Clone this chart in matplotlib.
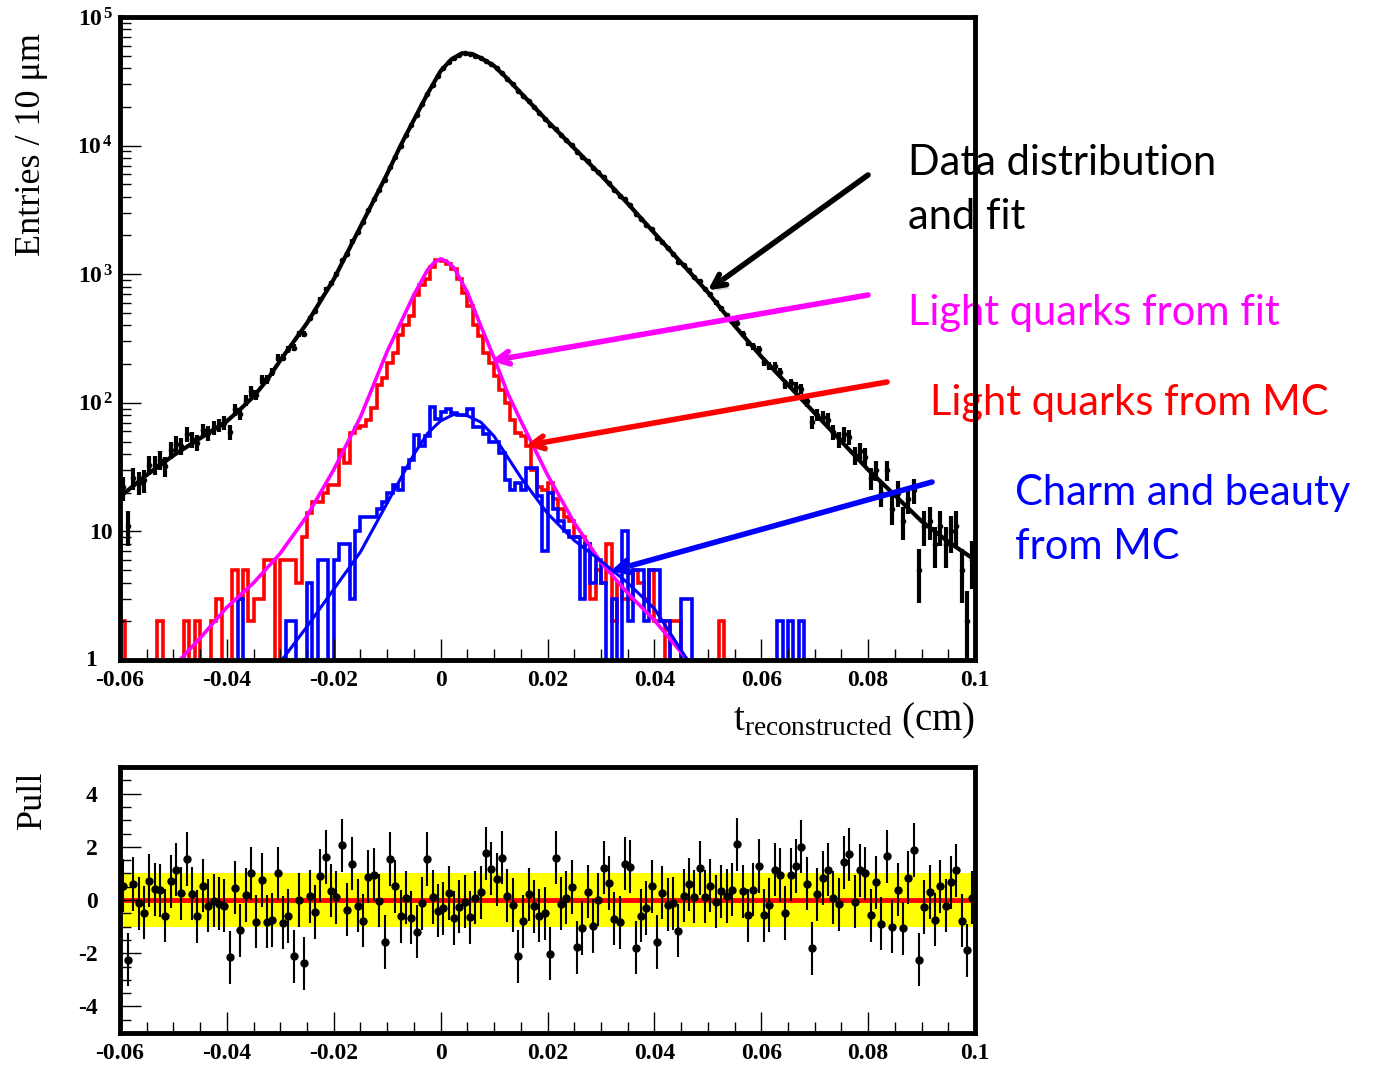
import numpy as np
import matplotlib.pyplot as plt
from matplotlib import patheffects as pe
from matplotlib.ticker import MultipleLocator, FuncFormatter, FixedLocator, FixedFormatter, LogLocator, NullFormatter

plt.rcParams['font.family'] = ['Liberation Serif', 'DejaVu Serif']
plt.rcParams['mathtext.fontset'] = 'custom'
plt.rcParams['mathtext.rm'] = 'Liberation Serif'
plt.rcParams['mathtext.it'] = 'Liberation Serif:italic'
plt.rcParams['mathtext.bf'] = 'Liberation Serif:bold'

# 10 um bins between -0.06 and 0.1 cm
edges = np.linspace(-0.06, 0.1, 161)
centres = 0.5 * (edges[:-1] + edges[1:])

data_counts = [
    22, 11, 26, 24, 25, 33, 33, 36, 32, 43,
    48, 46, 57, 52, 49, 61, 58, 64, 67, 70,
    59, 89, 82, 104, 123, 116, 152, 152, 174, 225,
    225, 260, 269, 346, 345, 454, 517, 639, 765, 853,
    1005, 1283, 1448, 1823, 2123, 2536, 3161, 3816, 4537, 5366,
    6794, 8213, 9939, 12033, 14375, 17221, 20876, 25363, 29667, 34920,
    39983, 44465, 47991, 50944, 52166, 51432, 50139, 47926, 45823, 43154,
    39967, 36611, 33142, 29890, 26693, 24309, 22111, 19919, 17951, 16229,
    14512, 13581, 12147, 11050, 10072, 8929, 8165, 7526, 6727, 6181,
    5689, 5104, 4523, 4076, 3816, 3438, 2929, 2692, 2434, 2227,
    1912, 1793, 1596, 1437, 1255, 1172, 1069, 948, 884, 767,
    696, 604, 544, 479, 431, 418, 343, 292, 276, 262,
    209, 194, 193, 173, 139, 142, 133, 128, 103, 71,
    81, 78, 74, 59, 52, 57, 54, 39, 42, 38,
    26, 30, 20, 30, 15, 20, 12, 18, 21, 5,
    11, 12, 8, 11, 8, 10, 11, 5, 2, 6,
]

pulls = [
    0.54, -2.25, 0.6, -0.12, -0.48, 0.72, 0.4, 0.36, -0.59, 0.7,
    1.14, 0.25, 1.54, 0.24, -0.62, 0.54, -0.22, -0.03, -0.14, -0.22,
    -2.15, 0.46, -1.14, 0.19, 1.0, -0.81, 0.75, -0.81, -0.75, 1.01,
    -0.85, -0.6, -2.11, 0.0, -2.38, 0.14, -0.45, 0.92, 1.62, 0.35,
    0.1, 2.06, -0.36, 1.36, -0.22, -0.78, 0.88, 0.95, -0.03, -1.58,
    1.54, 0.52, -0.61, 0.09, -0.66, -1.19, -0.12, 1.54, 0.11, -0.4,
    -0.31, 0.26, -0.68, -0.25, -0.06, -0.65, 0.09, 0.29, 1.75, 1.18,
    0.78, 1.59, 0.16, -0.19, -2.11, -0.8, 0.21, -0.24, -0.59, -0.5,
    -2.02, 1.59, -0.14, 0.09, 0.49, -1.78, -1.05, 0.31, -0.98, 0.01,
    1.22, 0.64, -0.71, -0.84, 1.36, 1.25, -1.79, -0.59, -0.3, 0.52,
    -1.58, 0.27, -0.18, -0.12, -1.16, 0.16, 0.59, 0.12, 1.2, 0.12,
    0.54, -0.06, 0.32, 0.15, 0.39, 2.1, 0.32, -0.58, 0.38, 1.28,
    -0.58, -0.19, 1.14, 0.94, -0.49, 0.95, 1.28, 2.0, 0.61, -1.81,
    0.22, 0.83, 1.14, 0.09, -0.16, 1.41, 1.72, -0.06, 1.11, 1.01,
    -0.58, 0.66, -0.89, 1.64, -1.01, 0.39, -1.06, 0.84, 1.88, -2.25,
    -0.26, 0.3, -0.74, 0.52, -0.21, 0.66, 1.12, -0.78, -1.89, 0.09,
]

# light quarks MC
light_mc = [
    2, 0, 0, 0, 0, 0, 0, 2, 0, 0,
    0, 0, 2, 0, 2, 0, 0, 2, 3, 0,
    0, 5, 3, 5, 2, 3, 3, 6, 6, 0,
    6, 6, 6, 4, 9, 14, 17, 17, 20, 23,
    23, 43, 34, 58, 64, 66, 73, 91, 137, 156,
    204, 245, 338, 405, 477, 695, 820, 916, 1130, 1290,
    1270, 1200, 1090, 916, 720, 570, 405, 333, 245, 204,
    162, 125, 100, 73, 58, 55, 46, 30, 22, 21,
    24, 18, 15, 13, 12, 9, 9, 8, 3, 5,
    4, 8, 2, 4, 3, 3, 5, 4, 3, 5,
    2, 2, 0, 2, 2, 0, 0, 0, 0, 0,
    0, 0, 2, 0, 0, 0, 0, 0, 0, 0,
    0, 0, 0, 0, 0, 0, 0, 0, 0, 0,
    0, 0, 0, 0, 0, 0, 0, 0, 0, 0,
    0, 0, 0, 0, 0, 0, 0, 0, 0, 0,
    0, 0, 0, 0, 0, 0, 0, 0, 0, 0,
]

# charm and beauty MC
heavy_mc = [
    0, 0, 0, 0, 0, 0, 0, 0, 0, 0,
    0, 0, 0, 0, 0, 0, 0, 0, 0, 0,
    0, 0, 3, 0, 0, 0, 0, 0, 0, 0,
    0, 2, 2, 0, 0, 4, 0, 6, 6, 0,
    6, 8, 8, 3, 10, 13, 13, 13, 15, 17,
    20, 23, 21, 31, 36, 56, 46, 55, 92, 75,
    85, 90, 84, 80, 80, 90, 65, 65, 57, 50,
    50, 41, 25, 21, 24, 21, 31, 31, 19, 7,
    20, 15, 12, 10, 9, 9, 3, 8, 4, 6,
    4, 0, 3, 0, 10, 2, 5, 5, 2, 5,
    5, 2, 2, 0, 0, 3, 3, 0, 0, 0,
    0, 0, 0, 0, 0, 0, 0, 0, 0, 0,
    0, 0, 0, 2, 0, 2, 0, 2, 0, 0,
    0, 0, 0, 0, 0, 0, 0, 0, 0, 0,
    0, 0, 0, 0, 0, 0, 0, 0, 0, 0,
    0, 0, 0, 0, 0, 0, 0, 0, 0, 0,
]

# fitted functions
fit_x = [-0.06, -0.055, -0.05, -0.045, -0.04, -0.0375, -0.035, -0.0325, -0.03, -0.025,
         -0.02, -0.015, -0.01, -0.0075, -0.005, -0.0025, 0.0, 0.002, 0.004, 0.006,
         0.008, 0.01, 0.0125, 0.015, 0.02, 0.025, 0.03, 0.035, 0.04, 0.045,
         0.05, 0.055, 0.06, 0.065, 0.07, 0.075, 0.08, 0.085, 0.09, 0.095, 0.1]
fit_total = [18.6, 27.5, 39.0, 53.0, 72.0, 89.0, 112, 150, 214, 417,
             912, 2340, 6030, 10000, 15850, 25100, 38000, 46800, 52300, 51500,
             46800, 41700, 33100, 25700, 15500, 9550, 5890, 3550, 2090, 1230,
             724, 398, 229, 138, 83.2, 50.1, 30.2, 19.1, 12.0, 8.3, 6.0]

light_x = [-0.0488, -0.045, -0.04, -0.035, -0.03, -0.025, -0.02, -0.015, -0.01, -0.0075,
           -0.005, -0.0025, -0.00125, 0.0, 0.00125, 0.0025, 0.005, 0.0075, 0.01, 0.0125,
           0.015, 0.02, 0.025, 0.03, 0.035, 0.04, 0.0462]
light_fit = [1.0, 1.48, 2.57, 3.98, 6.76, 13.2, 30.2, 77.6, 251, 417,
             692, 1072, 1230, 1318, 1250, 1122, 724, 398, 224, 120,
             72.4, 27.5, 11.7, 5.75, 3.31, 2.04, 1.0]

heavy_x = [-0.0297, -0.025, -0.02, -0.015, -0.01, -0.005, -0.0025, 0.0, 0.0025, 0.005,
           0.0075, 0.01, 0.0125, 0.015, 0.02, 0.025, 0.03, 0.035, 0.04, 0.0462]
heavy_fit = [1.0, 1.82, 3.55, 6.92, 16.6, 39.8, 57.5, 72.4, 81.3, 79.4,
             70.8, 55.0, 38.0, 26.3, 13.8, 8.51, 5.89, 3.98, 2.51, 1.0]

W, H = 1393, 1066
fig = plt.figure(figsize=(W / 100, H / 100), dpi=100)
ax = fig.add_axes([120 / W, 1 - 660 / H, 855 / W, 643 / H])
axp = fig.add_axes([120 / W, 1 - 1033 / H, 855 / W, 266 / H])


def xfmt(v, pos):
    v = round(v, 4)
    if abs(v) < 1e-9:
        return '0'
    return f'{v:g}'


tick_font = dict(family='Liberation Serif', weight='bold', size=17)

for a in (ax, axp):
    a.set_xlim(-0.06, 0.1)
    a.xaxis.set_major_locator(MultipleLocator(0.02))
    a.xaxis.set_minor_locator(MultipleLocator(0.005))
    a.xaxis.set_major_formatter(FuncFormatter(xfmt))
    a.tick_params(which='both', direction='in', top=False, right=False, width=1, colors='black')
    a.tick_params(which='major', length=15)
    a.tick_params(which='minor', length=8)
    a.tick_params(axis='x', pad=7)
    for s in a.spines.values():
        s.set_linewidth(3.5)

# top panel: distributions
ax.set_yscale('log')
ax.set_ylim(1, 1e5)
ax.yaxis.set_major_locator(FixedLocator([1, 10, 100, 1e3, 1e4, 1e5]))
ax.yaxis.set_major_formatter(FixedFormatter(['', '10', r'$\mathbf{10^{\,2}}$', r'$\mathbf{10^{\,3}}$',
                                             r'$\mathbf{10^{\,4}}$', r'$\mathbf{10^{\,5}}$']))
ax.yaxis.set_minor_locator(LogLocator(base=10, subs=np.arange(2, 10)))
ax.yaxis.set_minor_formatter(NullFormatter())
ax.tick_params(axis='y', pad=5)
for lab in ax.get_yticklabels() + ax.get_xticklabels():
    lab.set_fontproperties(tick_font)
ax.text(-0.027, 0.0, '1', transform=ax.transAxes, ha='right', va='center', **tick_font)

ax.stairs(light_mc, edges, color='#ff0000', lw=2.6, baseline=None)
ax.stairs(heavy_mc, edges, color='#0000ff', lw=2.6, baseline=None)
ax.plot(light_x, light_fit, color='#ff00ff', lw=2.6)
ax.plot(heavy_x, heavy_fit, color='#0000ff', lw=2.2)
ax.errorbar(centres, data_counts, yerr=np.sqrt(data_counts), fmt='o', ms=3,
            color='black', elinewidth=3, capsize=0)
ax.plot(fit_x, fit_total, color='black', lw=3)

fig.text(32 / W, 1 - 145 / H, 'Entries / 10 \u03bcm', rotation=90, ha='center', va='center', fontsize=26)
fig.text(975 / W, 1 - 730 / H, r'$\mathrm{t_{reconstructed}}$ (cm)', ha='right', va='baseline', fontsize=28)

# labels with arrows
note_font = ['Lato', 'DejaVu Sans']
notes = [
    ('Data distribution\nand fit', 908, 190, 'black'),
    ('Light quarks from fit', 908, 313, '#ff00ff'),
    ('Light quarks from MC', 930, 403, '#ff0000'),
    ('Charm and beauty\nfrom MC', 1015, 520, '#0000ff'),
]
for txt, px, py, col in notes:
    ax.text(px / W, 1 - py / H, txt, transform=fig.transFigure, color=col, fontsize=30,
            family=note_font, ha='left', va='center', linespacing=1.5, zorder=2, clip_on=False)

arrows = [
    ((0.05, 748), (868, 175), 'black'),
    ((0.0094, 212), (868, 295), '#ff00ff'),
    ((0.0159, 46.5), (887, 382), '#ff0000'),
    ((0.0318, 4.9), (932, 482), '#0000ff'),
]
for tip, tail, col in arrows:
    ax.annotate('', xy=tip, xycoords='data', xytext=(tail[0] / W, 1 - tail[1] / H),
                textcoords='figure fraction', zorder=5,
                arrowprops=dict(arrowstyle='->,head_length=0.9,head_width=0.45', lw=4, color=col,
                                shrinkA=0, shrinkB=0,
                                path_effects=[pe.SimplePatchShadow(offset=(2, -3), alpha=0.25),
                                              pe.Normal()]))

# bottom panel: pulls
axp.set_ylim(-5, 5)
axp.yaxis.set_major_locator(MultipleLocator(2))
axp.yaxis.set_minor_locator(MultipleLocator(0.5))
axp.yaxis.set_major_formatter(FuncFormatter(lambda v, p: f'{v:g}'))
axp.tick_params(axis='y', pad=16)
for lab in axp.get_yticklabels() + axp.get_xticklabels():
    lab.set_fontproperties(tick_font)
axp.axhspan(-1, 1, color='#ffff00', lw=0, zorder=0)
axp.axhline(0, color='#ff0000', lw=3.5, zorder=1)
axp.errorbar(centres, pulls, yerr=1, fmt='o', ms=5, color='black', elinewidth=1.5, capsize=0, zorder=3)
fig.text(32 / W, 1 - 800 / H, 'Pull', rotation=90, ha='center', va='center', fontsize=26)

fig.savefig('out.png', dpi=100)
